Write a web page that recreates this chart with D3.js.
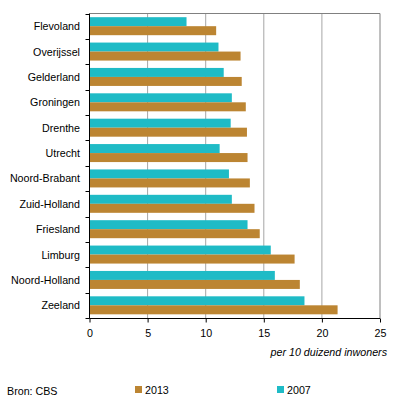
<!DOCTYPE html>
<html>
<head>
<meta charset="utf-8">
<script src="https://cdn.jsdelivr.net/npm/d3@7"></script>
<style>
  body { margin: 0; background: #fff; }
  text { font-family: "Liberation Sans", Arial, sans-serif; font-size: 10.7px; fill: #000; }
</style>
</head>
<body>
<div id="chart"></div>
<script>
// data
var provinces = ["Flevoland", "Overijssel", "Gelderland", "Groningen", "Drenthe", "Utrecht",
  "Noord-Brabant", "Zuid-Holland", "Friesland", "Limburg", "Noord-Holland", "Zeeland"];
var values2007 = [8.35, 11.1, 11.55, 12.25, 12.15, 11.2, 12.0, 12.25, 13.6, 15.6, 15.95, 18.5];
var values2013 = [10.9, 13.0, 13.1, 13.45, 13.55, 13.6, 13.8, 14.2, 14.65, 17.65, 18.1, 21.35];
var xTicks = [0, 5, 10, 15, 20, 25];
var seriesNames = ["2013", "2007"];

var colors = { "2013": "#bc8532", "2007": "#1fbbc6" };

var width = 396, height = 404;
var margin = { top: 13.5, right: 16, bottom: 86, left: 89.5 };

var svg = d3.select("#chart").append("svg")
  .attr("width", width)
  .attr("height", height);

var x = d3.scaleLinear().domain([0, 25]).range([margin.left, width - margin.right]);
var y = d3.scaleBand().domain(provinces).range([margin.top, height - margin.bottom]);

// table built from the arrays
var rows = provinces.map(function (p, i) {
  return { name: p, v2007: values2007[i], v2013: values2013[i] };
});

// vertical grid lines
svg.append("g")
  .selectAll("line")
  .data(xTicks.slice(1))
  .enter()
  .append("line")
  .attr("x1", function (d) { return x(d); })
  .attr("x2", function (d) { return x(d); })
  .attr("y1", y.range()[0])
  .attr("y2", y.range()[1])
  .attr("stroke", function (d) { return d == 25 ? "#808080" : "#a6a6a6"; })
  .attr("stroke-width", 1);

// top border
svg.append("line")
  .attr("x1", x(0)).attr("x2", x(25))
  .attr("y1", y.range()[0]).attr("y2", y.range()[0])
  .attr("stroke", "#808080");

// bars
var barH = 9;
var pad = (y.bandwidth() - 2 * barH) / 2;

var groups = svg.append("g")
  .selectAll("g")
  .data(rows)
  .enter()
  .append("g")
  .attr("transform", function (d) { return "translate(0," + y(d.name) + ")"; });

groups.append("rect")
  .attr("x", x(0))
  .attr("y", pad)
  .attr("width", function (d) { return x(d.v2007) - x(0); })
  .attr("height", barH)
  .attr("fill", colors["2007"]);

groups.append("rect")
  .attr("x", x(0))
  .attr("y", pad + barH)
  .attr("width", function (d) { return x(d.v2013) - x(0); })
  .attr("height", barH)
  .attr("fill", colors["2013"]);

// left axis: labels + ticks at band edges
svg.append("g")
  .selectAll("text")
  .data(provinces)
  .enter()
  .append("text")
  .attr("x", 80)
  .attr("y", function (d) { return y(d) + y.bandwidth() / 2 + 4; })
  .attr("text-anchor", "end")
  .text(function (d) { return d; });

var edges = provinces.map(function (p) { return y(p); }).concat([y.range()[1]]);
svg.append("g")
  .selectAll("line")
  .data(edges)
  .enter()
  .append("line")
  .attr("x1", x(0) - 4).attr("x2", x(0))
  .attr("y1", function (d) { return Math.round(d) + 0.5; })
  .attr("y2", function (d) { return Math.round(d) + 0.5; })
  .attr("stroke", "#000");

svg.append("line")
  .attr("x1", x(0)).attr("x2", x(0))
  .attr("y1", y.range()[0]).attr("y2", y.range()[1] + 0.5)
  .attr("stroke", "#000");

// bottom axis
var xAxis = svg.append("g")
  .attr("transform", "translate(0," + (Math.round(y.range()[1]) + 0.5) + ")")
  .call(d3.axisBottom(x).tickValues(xTicks).tickSize(4).tickPadding(7).tickFormat(d3.format("d")));
xAxis.select(".domain").attr("stroke", "#000").attr("d", "M" + x(0) + ",0H" + x(25));
xAxis.selectAll(".tick line").attr("stroke", "#000");
xAxis.selectAll("text").style("font-size", "10.7px").attr("fill", "#000")
  .style("font-family", "'Liberation Sans', Arial, sans-serif");

svg.append("text")
  .attr("x", 387)
  .attr("y", 356)
  .attr("text-anchor", "end")
  .style("font-style", "italic")
  .text("per 10 duizend inwoners");

svg.append("text")
  .attr("x", 7)
  .attr("y", 395)
  .text("Bron: CBS");

// legend
var legendX = [135, 277];
var legend = svg.append("g")
  .selectAll("g")
  .data(seriesNames)
  .enter()
  .append("g")
  .attr("transform", function (d, i) { return "translate(" + legendX[i] + ",386)"; });

legend.append("rect")
  .attr("width", 7)
  .attr("height", 7)
  .attr("fill", function (d) { return colors[d]; });

legend.append("text")
  .attr("x", 10)
  .attr("y", 7.5)
  .text(function (d) { return d; });
</script>
</body>
</html>
